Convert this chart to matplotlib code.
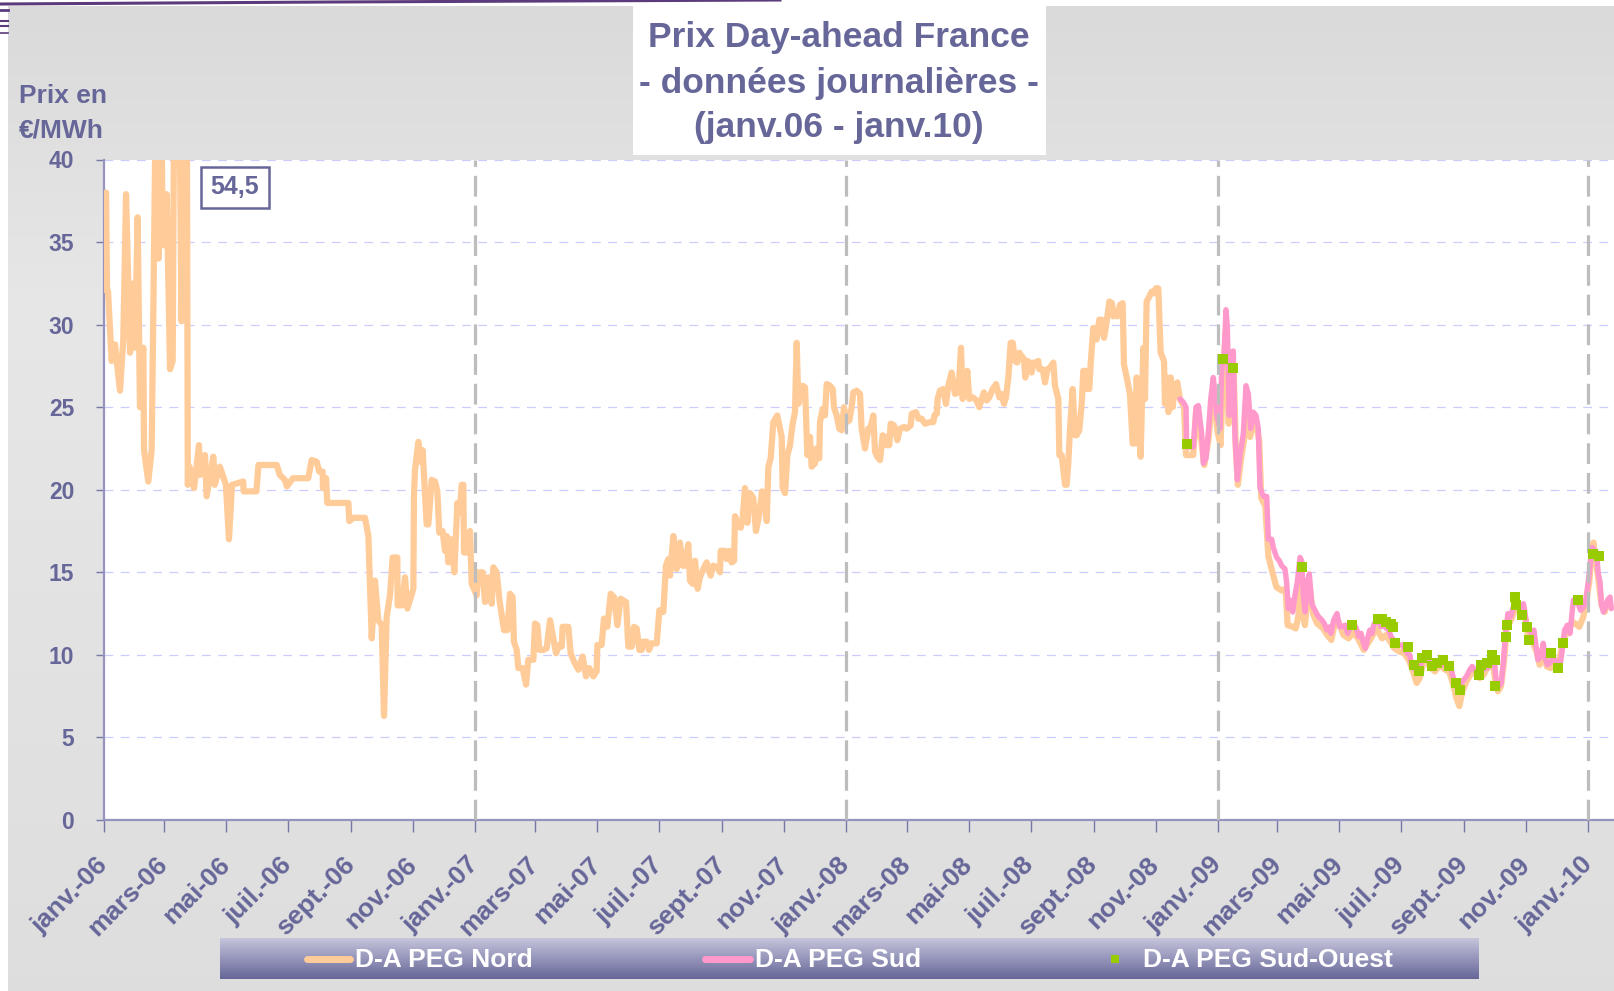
import numpy as np
import pandas as pd
import matplotlib
matplotlib.use("Agg")
import matplotlib.pyplot as plt
from matplotlib.patches import Rectangle
from matplotlib.lines import Line2D

# ---- data : day offset from 1 Jan 2006, price in EUR/MWh ----
nord_day = [
    2, 3, 4, 7.5, 10.8, 15.7, 19, 21.7, 25.6, 28.9, 30.5, 33.1, 35.4, 38.7, 39.4, 43.6, 46.9, 48.5,
    51.2, 53.8, 56.8, 57.7, 61.7, 65, 67.6, 70, 74, 76.4, 79, 81.5, 82.5, 84, 88.6, 93.5, 94.5,
    99.4, 101, 107.6, 109, 114, 120, 123, 126, 137, 137.5, 150, 152, 170, 173, 178, 180, 186, 193,
    201, 204.4, 209.3, 211.9, 215.2, 215.5, 218.5, 219.8, 240.5, 241.5, 245.4, 256.9, 260.2, 263.5,
    266.7, 270, 273.3, 275.6, 278.2, 281.5, 284.1, 288.7, 289, 293, 296.3, 298.6, 304.5, 305.1,
    306.1, 309.4, 311, 313.6, 317.6, 319.2, 322.5, 325.8, 328.1, 330, 333.3, 335.6, 337.3, 338.9,
    342.2, 344.8, 347.8, 350.4, 352, 353.7, 354.3, 357, 360.2, 361.9, 366.8, 368.4, 372.7, 375,
    378.3, 381.6, 383.2, 386.5, 389.5, 393.7, 397, 399.6,
    402.2, 403.5, 406.2, 407.8, 412.1, 415.4, 417.6, 422.6, 424.2, 426.5, 428.5, 432.4, 435.7, 439,
    442.3, 444.9, 448.2, 450.5, 451.4, 457, 459.3, 462.6, 466.9, 471.1, 474.4, 477.7, 481.6, 484.9,
    485.6, 489.8, 492.1, 495.4, 498.7, 502, 505.3, 508.5, 513.8, 516.1, 519.4, 521.7, 524.3, 526.9,
    529.2, 530.8, 534.1, 536.4, 539, 544, 546.6, 550.5, 553.1, 555.4, 557.1, 560.4, 563.6, 566.9,
    569.6, 571.9, 575.1, 576.8, 579.4, 581.7, 584.3, 586.6, 589.9, 593.2, 596.5,
    597.1, 599.7, 603.7, 606.3, 607, 611.2, 612.9, 615.5, 617.8, 620.1, 621.1, 624.3, 626.7, 628.6,
    630.9, 633.2, 635.8, 639.1, 641.7, 645, 647.6, 650.6, 652.3, 653.9, 656.2, 658.8, 662.7, 667,
    668, 670.3, 672.6, 675.2, 677.8, 680.1, 681.8, 683.4, 685.7, 687.7, 690, 692.3, 694.9, 696.5,
    699.8, 701.4, 704, 704.7, 707.4, 709.6, 711.3, 714.6, 717.2, 718.5, 721.1, 723.7, 726.1, 728.3,
    731, 733.6, 735.9, 737.5, 740.8, 744.1, 745.7, 749, 752.3, 754.6, 757.2, 758.9, 761.1, 763.8,
    766.4, 768.7, 770.3, 772.9, 774.3, 777.6, 780.8, 783.5, 787.4, 790,
    794, 795, 799.2, 801.5, 804.8, 808.1, 813, 816.3, 817.3, 819.6, 820.5, 822.8, 826.1, 828.7, 831,
    834.3, 837.6, 840.9, 843.5, 845.1, 847.4, 849.7, 851.7, 855, 858.9, 861.5, 863.9, 866.1, 868.8,
    871.4, 874.7, 878, 881.2, 883.5, 885.8, 887.8, 890.1, 892.4, 894.4, 896.7, 898.9, 900.9, 903.2,
    905.5, 906.8, 908.8, 911.4, 913, 914.7, 918, 919.6, 920.6, 923.9, 926.2, 928.5, 931.1, 934.4,
    936, 939.3, 940.3, 942.6, 945.9, 947.5, 949.1, 950.8, 953.4, 955.7, 957.3, 959.9, 962.3, 963.9,
    966.5, 967.8, 969.8, 971.1, 973.7, 977, 979.6, 982, 984.3, 986.9, 989.5, 992.1, 993.4, 996.1,
    997.4, 1000, 1002.6, 1003.9, 1006.6, 1009.8, 1012.5, 1014.8, 1016.4, 1018, 1020.3, 1023, 1024.6,
    1026.2, 1028.9, 1031.2, 1033.5, 1035.4, 1037.7, 1040, 1043.3, 1044.3, 1045.9, 1047.6, 1049.9,
    1051.8, 1054.1, 1056.4,
    1059, 1063, 1065, 1072, 1075, 1080, 1083, 1087, 1090, 1093, 1096, 1099, 1101, 1104, 1107, 1109,
    1112, 1114, 1116, 1119, 1122, 1125, 1128, 1131, 1134, 1137, 1139, 1143, 1146, 1150, 1154, 1159,
    1163, 1165, 1170, 1173, 1176, 1178, 1180, 1182, 1185, 1187, 1190, 1194, 1200, 1204, 1208, 1211,
    1215, 1220, 1225, 1230, 1235, 1240, 1243, 1247, 1252, 1258, 1262, 1266, 1270, 1275, 1280, 1285,
    1289, 1292, 1295, 1298, 1302, 1306, 1310, 1315, 1320, 1324, 1328, 1331, 1334, 1337, 1341, 1345,
    1350, 1354, 1358, 1362, 1366, 1369, 1372, 1375, 1378, 1381, 1384, 1388, 1391, 1395, 1399, 1402,
    1406, 1410, 1413, 1417, 1420, 1424, 1428, 1432, 1435, 1438, 1441, 1445, 1448, 1452, 1456, 1459,
    1462, 1464, 1466, 1469, 1471, 1474, 1477, 1480, 1483,
]
nord_val = [
    38.0, 32.0, 32.0, 27.8, 28.8, 26.0, 29.1, 37.9, 28.3, 32.5, 28.6, 36.5, 25.0, 28.6, 22.4, 20.5, 22.4, 30.5,
    45.0, 34.0, 42.0, 34.8, 37.9, 27.3, 27.8, 54.5, 45.0, 30.2, 47.0, 44.0, 20.3, 21.4, 20.1, 22.7, 20.9,
    22.1, 19.6, 22.0, 20.3, 21.4, 20.3, 17.0, 20.3, 20.5, 19.9, 19.9, 21.5, 21.5, 20.9, 20.6, 20.2, 20.7, 20.7,
    20.7, 21.8, 21.7, 21.1, 21.1, 20.1, 20.7, 19.2, 19.2, 18.1, 18.3, 18.3, 17.2, 11.0,
    14.5, 12.1, 11.8, 6.3, 12.3, 13.6, 15.9, 15.9, 13.0, 13.0, 14.7, 12.8, 14.0, 19.6,
    21.2, 22.9, 21.7, 22.4, 17.9, 17.9, 20.6, 20.5, 19.9, 17.4, 17.5, 16.3, 17.2, 15.6,
    17.0, 15.0, 19.2, 18.6, 20.3, 20.3, 16.2, 16.2, 17.5, 14.3, 13.6, 15.0, 15.0, 13.2,
    14.7, 13.1, 15.3, 15.0, 13.2, 11.5, 11.5, 13.7,
    13.5, 10.8, 10.3, 9.2, 9.2, 8.2, 9.7, 9.7, 11.9, 11.8, 10.3, 10.3, 10.4, 12.1,
    11.0, 10.1, 10.6, 10.5, 11.7, 11.7, 10.1, 9.6, 9.1, 9.9, 8.7, 9.2, 8.7, 9.0,
    10.6, 10.6, 12.2, 11.7, 13.7, 13.5, 11.8, 13.4, 13.2, 10.5, 10.5, 11.7, 11.6, 10.3,
    10.3, 10.8, 10.8, 10.3, 10.7, 10.7, 12.7, 12.6, 15.4, 15.8, 14.8, 17.2, 15.2, 16.8,
    15.4, 15.4, 16.7, 14.5, 14.3, 15.7, 14.0, 14.7, 15.2, 15.6, 14.9,
    14.8, 15.4, 15.3, 15.0, 16.3, 16.3, 15.8, 16.3, 15.6, 15.7, 18.4, 17.8, 17.7, 18.3,
    20.1, 18.0, 19.8, 19.5, 17.5, 18.5, 19.9, 19.8, 18.1, 21.4, 21.9, 24.1, 24.5, 23.2,
    20.1, 19.8, 22.1, 22.7, 24.0, 24.7, 28.9, 25.2, 25.8, 26.3, 26.2, 22.1, 23.2, 21.4,
    21.6, 22.5, 21.9, 24.1, 24.9, 24.5, 26.4, 26.3, 26.1, 25.0, 24.5, 23.7, 23.6, 25.0,
    24.1, 24.2, 25.0, 25.9, 26.0, 25.8, 23.7, 22.5, 23.7, 23.8, 24.5, 22.3, 22.0, 21.8,
    23.3, 23.2, 22.7, 22.7, 24.0, 23.9, 23.0, 23.7, 23.8, 23.7,
    23.9, 24.6, 24.7, 24.3, 24.3, 24.0, 24.1, 24.1, 24.5, 24.6, 25.5, 26.0, 26.1, 25.2, 26.3,
    27.1, 25.8, 25.9, 28.6, 25.5, 26.1, 27.2, 25.5, 25.6, 25.4, 25.0, 25.5, 25.9, 25.4,
    25.6, 26.1, 26.4, 25.6, 25.8, 25.2, 25.6, 26.8, 28.9, 28.9, 27.8, 27.7, 28.3, 28.1,
    27.9, 26.8, 27.8, 27.7, 27.1, 27.7, 27.7, 27.8, 27.3, 27.3, 26.5, 27.3, 27.4, 27.7,
    26.3, 25.5, 22.1, 22.1, 20.3, 20.3, 21.6, 23.7, 26.1, 23.3, 23.3, 23.6, 25.2, 27.2,
    27.2, 26.1, 26.1, 27.6, 29.8, 29.1, 30.3, 30.3, 29.2, 30.2, 31.4, 31.3, 30.5, 30.8,
    30.5, 31.2, 31.3, 27.6, 26.8, 25.8, 22.8, 22.8, 26.8, 25.2, 22.0, 28.6, 25.5,
    31.4, 31.7, 32.0, 31.9, 32.2, 32.2, 28.3, 27.8, 25.2, 26.8, 24.7, 26.8,
    25.0, 26.3, 26.5,
    25.5, 25.0, 22.1, 22.1, 24.8, 23.0, 21.5, 23.0, 25.0, 25.5, 23.5, 22.7, 26.5, 29.5, 24.0, 27.5,
    27.0, 22.5, 20.3, 21.8, 23.0, 25.5, 23.2, 24.0, 24.0, 23.0, 19.5, 19.0, 16.0, 15.0, 14.1, 13.9,
    14.0, 11.8, 11.7, 11.6, 12.5, 15.0, 12.5, 11.8, 13.8, 14.0, 12.5, 11.9, 11.6, 11.2, 10.9, 11.8,
    12.0, 11.2, 11.0, 11.4, 10.9, 10.3, 10.6, 11.0, 11.6, 11.0, 11.2, 10.8, 10.4, 10.2, 10.1, 9.6,
    8.9, 8.3, 8.6, 9.4, 9.6, 9.2, 9.0, 9.4, 9.1, 9.0, 8.2, 7.4, 6.9, 7.8, 8.4, 8.8,
    9.0, 8.6, 8.8, 9.3, 9.8, 8.6, 7.8, 8.1, 9.6, 12.0, 12.0, 12.6, 12.8, 12.4, 12.2, 11.0,
    10.8, 10.2, 9.4, 10.2, 9.3, 9.2, 9.5, 9.6, 10.5, 11.2, 11.3, 12.0, 11.9, 11.7, 12.3, 13.2,
    14.5, 16.0, 16.8, 15.5, 14.5, 13.0, 12.6, 13.2, 12.9,
]

sud_day = [
    1059.1, 1062.3, 1065, 1065.6, 1068.9, 1072.2, 1074.8, 1077.1, 1080.4, 1082, 1084.6, 1086.9, 1089.2,
    1091.8, 1093.5, 1095.2, 1098.4, 1100.1, 1102.4, 1104.3, 1105.6, 1107.6, 1108.9, 1111.5, 1113.2,
    1115.5, 1118.1, 1121.4, 1124, 1126.3, 1128.6, 1131.2, 1133.9, 1136.1, 1137.8, 1141.1, 1144.4, 1146,
    1149.3, 1150.9, 1154.2, 1156.8, 1159.1, 1162.4, 1164, 1165.7, 1168, 1170, 1172.2, 1174.5, 1177.2,
    1178.8, 1180.4, 1182.1, 1184.4, 1186.3, 1188.7, 1191, 1193.6, 1195.5, 1198.8, 1201.1, 1203.7,
    1206.4, 1207.7, 1210.3, 1213.6, 1216.2, 1218.5, 1221.8, 1224.1, 1226.7, 1230, 1232.7, 1235, 1237.3,
    1239.2, 1241.5, 1243.2, 1245.8, 1248.1, 1249.7, 1252.4, 1254.7, 1257, 1259.6, 1262.2, 1264.5,
    1266.8, 1269.4, 1272.1, 1274.4, 1277.7, 1280, 1282.6, 1285.2, 1286.5, 1289.2, 1292.4, 1295.1,
    1297.4, 1299.7, 1302.3, 1305.6, 1308.2, 1310.5, 1312.8, 1315.4, 1318.1, 1320.4, 1323.6, 1326,
    1328.6, 1331.2, 1333.5, 1335.8, 1338.4, 1341.1, 1344.3, 1346.6, 1349, 1351.6, 1354.2, 1357.5,
    1359.8, 1362.1, 1364.7, 1366.4, 1368.7, 1370.6, 1372.9, 1375.2, 1377.2, 1379.5, 1381.8, 1384.4,
    1387.1, 1389.4, 1391.7, 1394.3, 1397, 1398.2, 1400.2, 1402.5, 1404.8, 1407.4, 1409.1, 1411.4,
    1414, 1416.6, 1418.9, 1420.6, 1423.2, 1425.5, 1427.8, 1430.4, 1433, 1435.3, 1437.6, 1440.3,
    1442.9, 1444.2, 1446.2, 1448.5, 1450.8, 1453.4, 1456, 1458.3, 1460, 1461.6, 1463.3, 1464.9,
    1467.2, 1469.2, 1470.5, 1472.5, 1473.8, 1475.8, 1478, 1479.7, 1482.3, 1483.6,
]
sud_val = [
    25.5, 25.3, 25.0, 22.6, 22.6, 22.6, 25.0, 25.1, 23.4, 21.6, 21.9, 23.4, 25.4,
    26.8, 25.8, 24.5, 23.7, 27.3, 28.1, 30.9, 29.9, 24.5, 28.3, 28.4, 23.2,
    20.6, 22.1, 23.4, 26.3, 25.8, 23.7, 24.7, 24.5, 23.7, 20.1, 19.6, 19.6, 17.0,
    17.0, 16.5, 15.9, 15.7, 15.4, 15.2, 14.4, 12.8, 13.3, 12.6, 13.6, 14.4, 15.9,
    15.7, 13.6, 12.6, 14.4, 14.9, 13.1, 12.8, 12.5, 12.3, 12.1, 11.9, 11.5,
    11.7, 11.3, 12.1, 12.5, 11.7, 11.7, 11.8, 11.3, 11.7, 11.9, 11.6, 11.1, 11.3,
    10.8, 10.4, 10.9, 11.5, 11.3, 11.8, 12.1, 12.0, 11.7, 11.8, 11.6, 11.5,
    11.1, 10.9, 10.8, 10.6, 10.6, 10.4, 10.1, 10.0, 9.5, 9.2, 9.0, 9.2,
    9.8, 9.9, 9.7, 9.5, 9.4, 9.3, 9.5, 9.6, 9.5, 9.3, 9.2, 9.1,
    8.5, 8.1, 7.9, 8.3, 8.5, 8.7, 9.1, 9.3, 9.1, 8.9, 9.2, 9.1,
    9.5, 9.2, 9.5, 10.0, 9.5, 8.2, 8.1, 8.3, 9.5, 11.3, 12.5, 12.3,
    12.9, 13.4, 13.1, 12.8, 13.1, 12.7, 11.9, 11.5, 11.3, 11.5, 10.7, 9.7,
    9.9, 10.7, 9.7, 9.4, 9.5, 9.9, 9.7, 9.5, 9.3, 10.3, 11.5, 11.8,
    11.3, 12.1, 13.3, 13.4, 13.1, 12.7, 12.9, 13.3, 14.0, 14.8, 15.8, 16.5,
    16.3, 16.2, 15.0, 14.4, 13.1, 12.6, 12.9, 13.3, 13.5, 12.8,
]

so_day = [
    1066, 1101, 1111, 1179, 1228, 1254, 1258, 1262, 1267, 1269, 1271, 1283, 1289, 1294, 1297,
    1302, 1307, 1312, 1318, 1324, 1331, 1335, 1353, 1355, 1361, 1366, 1369, 1369.5, 1380, 1381,
    1389, 1390, 1396, 1401, 1402.5, 1424, 1431, 1436, 1451, 1466, 1471,
]
so_val = [
    22.8, 27.9, 27.4, 15.3, 11.8, 12.2, 12.2, 12.0, 11.9, 11.7, 10.7, 10.5, 9.4, 9.0, 9.8,
    10.0, 9.3, 9.5, 9.7, 9.3, 8.3, 7.9, 8.8, 9.4, 9.5, 10.0, 9.7, 8.1, 11.1, 11.8,
    13.5, 13.0, 12.4, 11.7, 10.9, 10.1, 9.2, 10.7, 13.3, 16.1, 16.0,
]

tick_labels = [
    "janv.-06", "mars-06", "mai-06", "juil.-06", "sept.-06", "nov.-06",
    "janv.-07", "mars-07", "mai-07", "juil.-07", "sept.-07", "nov.-07",
    "janv.-08", "mars-08", "mai-08", "juil.-08", "sept.-08", "nov.-08",
    "janv.-09", "mars-09", "mai-09", "juil.-09", "sept.-09", "nov.-09",
    "janv.-10",
]
year_starts = ["2007-01-01", "2008-01-01", "2009-01-01", "2010-01-01"]

TXT = "#666699"
start = pd.Timestamp("2006-01-01")


def to_dates(days):
    return start + pd.to_timedelta(days, unit="D")


W, H = 1614, 991
fig = plt.figure(figsize=(W / 100, H / 100), dpi=100, facecolor="white")

# grey slide background with soft vertical gradient
bg = fig.add_axes([8 / W, 0, 1 - 8 / W, 1 - 6 / H], zorder=-10)
grad = np.interp(np.linspace(0, 1, 200), [0, 0.3, 1], [0.855, 0.905, 0.87])
bg.imshow(np.repeat(grad[:, None], 3, axis=1)[:, None, :].repeat(2, axis=1),
          aspect="auto", extent=[0, 1, 0, 1], origin="upper")
bg.axis("off")

# small decorative strokes from the slide template
for xs, ys, lw in [([0, 330, 780], [H - 4, H - 2, H], 2.2),
                   ([0, 8], [H - 10, H - 10], 2.0),
                   ([0, 8], [H - 21, H - 21], 1.5),
                   ([0, 8], [H - 26, H - 26], 1.5),
                   ([0, 8], [H - 33, H - 33], 1.2)]:
    fig.add_artist(Line2D(np.array(xs) / W, np.array(ys) / H, color="#5b3b7c", lw=lw,
                          transform=fig.transFigure))

# plot area
x0, x1, y0, y1 = 104, W, 820, 159.5
ax = fig.add_axes([x0 / W, 1 - y0 / H, (x1 - x0) / W, (y0 - y1) / H])
ax.set_facecolor("white")

for v in range(5, 45, 5):
    ax.axhline(v, color="#ccccff", lw=0.9, dashes=(7, 6), zorder=1)

ax.plot(to_dates(nord_day), nord_val, color="#ffcc99", lw=4.5,
        solid_joinstyle="round", solid_capstyle="round", zorder=3)
ax.plot(to_dates(sud_day), sud_val, color="#ff99cc", lw=3.9,
        solid_joinstyle="round", solid_capstyle="round", zorder=4)

for d in year_starts:
    ax.axvline(pd.Timestamp(d), color="#bdbdbd", lw=2.3, dashes=(6.5, 2.8), zorder=5)

ax.plot(to_dates(so_day), so_val, ls="none", marker="s", ms=7, mew=0,
        color="#99cc00", zorder=6)

ax.set_ylim(0, 40)
ax.set_xlim(start, start + pd.Timedelta(days=(x1 - x0) / 1.016))
ax.set_yticks(range(0, 45, 5))
ax.set_yticklabels([str(v) for v in range(0, 45, 5)], fontsize=16.5,
                   fontweight="bold", color=TXT, family="Liberation Sans")
ticks = pd.date_range("2006-01-01", "2010-01-01", freq="2MS")
ax.set_xticks(ticks)
ax.set_xticklabels(tick_labels, fontsize=19, fontweight="bold", color=TXT,
                   family="Liberation Sans", rotation=45, ha="right", va="center",
                   rotation_mode="anchor")
ax.tick_params(axis="y", direction="out", length=5.5, width=1, color="#7777a8", pad=16)
ax.tick_params(axis="x", direction="out", length=8.5, width=1, color="#7777a8", pad=21)
for s in ("top", "right"):
    ax.spines[s].set_visible(False)
for s in ("left", "bottom"):
    ax.spines[s].set_color("#9494bf")
    ax.spines[s].set_linewidth(1.6)

# axis title
fig.text(19 / W, 1 - 96 / H, "Prix en", fontsize=19, fontweight="bold", color=TXT,
         family="Liberation Sans", ha="left", va="center")
fig.text(19 / W, 1 - 130 / H, "€/MWh", fontsize=19, fontweight="bold", color=TXT,
         family="Liberation Sans", ha="left", va="center")

# title box
fig.add_artist(Rectangle((633 / W, 1 - 155 / H), 413 / W, 149 / H, facecolor="white",
                         edgecolor="none", transform=fig.transFigure, zorder=2))
for txt, yc in [("Prix Day-ahead France", 38), ("- données journalières -", 83),
                ("(janv.06 - janv.10)", 127)]:
    fig.text(839 / W, 1 - yc / H, txt, fontsize=25.5, fontweight="bold", color=TXT,
             family="Liberation Sans", ha="center", va="center", zorder=3)

# clipped peak label
fig.add_artist(Rectangle((201 / W, 1 - 208 / H), 68 / W, 41 / H, facecolor="white",
                         edgecolor=TXT, lw=1.8, transform=fig.transFigure, zorder=5))
fig.text(235 / W, 1 - 187 / H, "54,5", fontsize=18, fontweight="bold", color=TXT,
         family="Liberation Sans", ha="center", va="center", zorder=6)

# legend band
lg = fig.add_axes([220 / W, 1 - 979 / H, (1479 - 220) / W, 41 / H])
top = np.array([0.77, 0.77, 0.86])
bot = np.array([0.40, 0.40, 0.60])
t = np.linspace(0, 1, 100)[:, None]
lg.imshow((top * (1 - t) + bot * t)[:, None, :].repeat(2, axis=1), aspect="auto",
          extent=[0, 1, 0, 1], origin="upper")
lg.set_xlim(0, 1)
lg.set_ylim(0, 1)
lg.axis("off")
entries = [("D-A PEG Nord", "#ffcc99", 307, 350, 355),
           ("D-A PEG Sud", "#ff99cc", 705, 750, 755)]
for label, col, la, lb, tx in entries:
    lg.plot([(la - 220) / 1259, (lb - 220) / 1259], [0.5, 0.5], color=col, lw=5,
            solid_capstyle="round")
    lg.text((tx - 220) / 1259, 0.47, label, fontsize=19, fontweight="bold", color="white",
            family="Liberation Sans", ha="left", va="center")
lg.plot([(1115 - 220) / 1259], [0.5], marker="s", ms=5.5, mew=0, color="#99cc00")
lg.text((1143 - 220) / 1259, 0.47, "D-A PEG Sud-Ouest", fontsize=19, fontweight="bold",
        color="white", family="Liberation Sans", ha="left", va="center")

fig.savefig("out.png", dpi=100, facecolor=fig.get_facecolor())
